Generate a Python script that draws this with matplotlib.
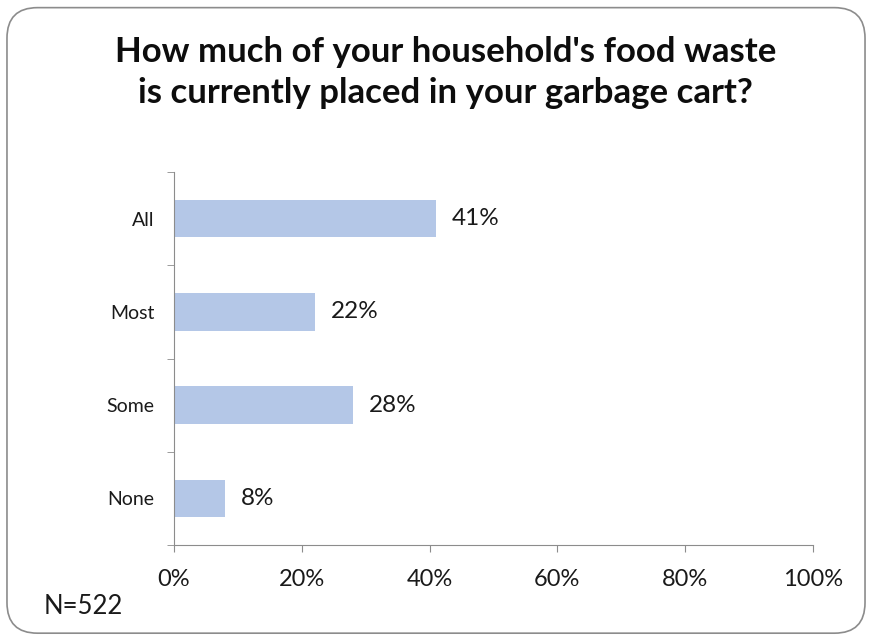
import numpy as np
import matplotlib.pyplot as plt
from matplotlib.patches import FancyBboxPatch

categories = ['All', 'Most', 'Some', 'None']
shares = [41, 22, 28, 8]
value_labels = ['41%', '22%', '28%', '8%']
x_ticks = [0, 20, 40, 60, 80, 100]
x_tick_labels = ['0%', '20%', '40%', '60%', '80%', '100%']

plt.rcParams['font.family'] = ['Lato', 'DejaVu Sans']

fig = plt.figure(figsize=(8.72, 6.37), dpi=100)

# rounded chart border
border = FancyBboxPatch((0.008, 0.006), 0.984, 0.982,
                        boxstyle='round,pad=0,rounding_size=0.035',
                        transform=fig.transFigure, facecolor='white',
                        edgecolor='#8c8c8c', linewidth=1.2, zorder=-1,
                        mutation_aspect=872/637)
fig.patches.append(border)

ax = fig.add_axes([0.1995, 0.1444, 0.7328, 0.5856])
ax.set_facecolor('none')
ax.set_zorder(2)

y = np.arange(len(categories))
ax.barh(y, shares, height=0.4, color='#b4c7e7', zorder=2)
for yi, v, lab in zip(y, shares, value_labels):
    ax.text(v + 2.5, yi, lab, va='center', ha='left', fontsize=17.5, color='#1a1a1a')

ax.set_xlim(0, 100)
ax.set_ylim(len(categories) - 0.5, -0.5)
ax.set_xticks(x_ticks)
ax.set_xticklabels(x_tick_labels, fontsize=17, color='#1a1a1a')
ax.set_yticks(y)
ax.set_yticklabels(categories, fontsize=14, color='#1a1a1a')
ax.tick_params(axis='y', length=0, pad=14)
ax.set_yticks(np.arange(-0.5, len(categories)), minor=True)
ax.tick_params(axis='y', which='minor', length=5, color='#8c8c8c')
ax.tick_params(axis='x', length=5, color='#8c8c8c', pad=12)

for s in ['top', 'right']:
    ax.spines[s].set_visible(False)
for s in ['left', 'bottom']:
    ax.spines[s].set_color('#8c8c8c')

fig.text(0.511, 0.886, "How much of your household's food waste\nis currently placed in your garbage cart?",
         ha='center', va='center', fontsize=25, fontweight='bold',
         linespacing=1.33, color='#0d0d0d')
fig.text(0.05, 0.048, 'N=522', fontsize=18.5, ha='left', va='center', color='#1a1a1a')

fig.savefig('out.png', dpi=100)
